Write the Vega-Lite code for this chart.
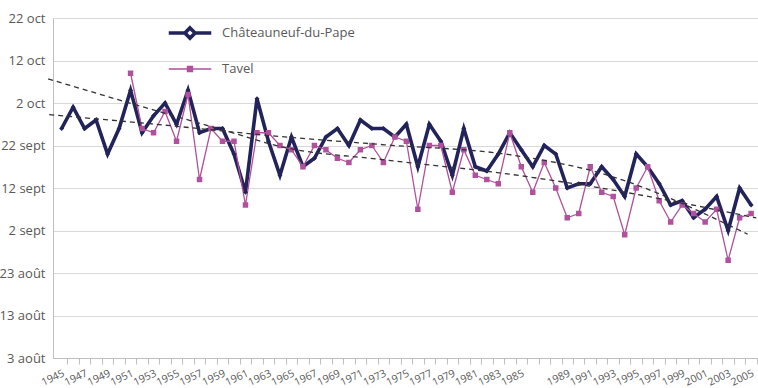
{
  "$schema": "https://vega.github.io/schema/vega-lite/v6.json",
  "width": 705,
  "height": 340,
  "autosize": "none",
  "padding": {"left": 53, "top": 18, "right": 0, "bottom": 30},
  "background": "white",
  "config": {
    "view": {"stroke": null},
    "font": "Open Sans",
    "axis": {"labelColor": "#595959", "domainColor": "#bfbfbf", "tickColor": "#bfbfbf", "title": null}
  },
  "encoding": {
    "x": {
      "field": "year",
      "type": "quantitative",
      "scale": {"domain": [1944.25, 2005.6], "nice": false, "zero": false},
      "axis": {
        "values": [1945,1946,1947,1948,1949,1950,1951,1952,1953,1954,1955,1956,1957,1958,1959,1960,1961,1962,1963,1964,1965,1966,1967,1968,1969,1970,1971,1972,1973,1974,1975,1976,1977,1978,1979,1980,1981,1982,1983,1984,1985,1986,1987,1988,1989,1990,1991,1992,1993,1994,1995,1996,1997,1998,1999,2000,2001,2002,2003,2004,2005],
        "format": "d",
        "labelExpr": "(datum.value % 2 == 1 && datum.value != 1987) ? datum.label : ''",
        "grid": false,
        "tickOffset": 5.75,
        "labelOffset": -6,
        "tickSize": 6,
        "labelAngle": -25,
        "labelAlign": "right",
        "labelBaseline": "top",
        "labelFontSize": 10.5,
        "labelPadding": 4,
        "labelOverlap": false,
        "labelFlush": false
      }
    },
    "y": {
      "field": "date",
      "type": "temporal",
      "scale": {"domain": [{"year": 1900, "month": 8, "date": 3}, {"year": 1900, "month": 10, "date": 22}], "nice": false},
      "axis": {
        "values": [
          {"year": 1900, "month": 8, "date": 3},
          {"year": 1900, "month": 8, "date": 13},
          {"year": 1900, "month": 8, "date": 23},
          {"year": 1900, "month": 9, "date": 2},
          {"year": 1900, "month": 9, "date": 12},
          {"year": 1900, "month": 9, "date": 22},
          {"year": 1900, "month": 10, "date": 2},
          {"year": 1900, "month": 10, "date": 12},
          {"year": 1900, "month": 10, "date": 22}
        ],
        "labelExpr": "date(datum.value) + ' ' + ['janv','févr','mars','avr','mai','juin','juil','août','sept','oct','nov','déc'][month(datum.value)]",
        "grid": true,
        "gridColor": "#d9d9d9",
        "ticks": false,
        "labelPadding": 8,
        "labelFontSize": 13
      }
    }
  },
  "layer": [
    {
      "data": {
        "values": [
          {"year": 1945, "series": "Châteauneuf-du-Pape", "date": "09-26"},
          {"year": 1946, "series": "Châteauneuf-du-Pape", "date": "10-01"},
          {"year": 1947, "series": "Châteauneuf-du-Pape", "date": "09-26"},
          {"year": 1948, "series": "Châteauneuf-du-Pape", "date": "09-28"},
          {"year": 1949, "series": "Châteauneuf-du-Pape", "date": "09-20"},
          {"year": 1950, "series": "Châteauneuf-du-Pape", "date": "09-26"},
          {"year": 1951, "series": "Châteauneuf-du-Pape", "date": "10-05"},
          {"year": 1952, "series": "Châteauneuf-du-Pape", "date": "09-25"},
          {"year": 1953, "series": "Châteauneuf-du-Pape", "date": "09-29"},
          {"year": 1954, "series": "Châteauneuf-du-Pape", "date": "10-02"},
          {"year": 1955, "series": "Châteauneuf-du-Pape", "date": "09-27"},
          {"year": 1956, "series": "Châteauneuf-du-Pape", "date": "10-05"},
          {"year": 1957, "series": "Châteauneuf-du-Pape", "date": "09-25"},
          {"year": 1958, "series": "Châteauneuf-du-Pape", "date": "09-26"},
          {"year": 1959, "series": "Châteauneuf-du-Pape", "date": "09-26"},
          {"year": 1960, "series": "Châteauneuf-du-Pape", "date": "09-20"},
          {"year": 1961, "series": "Châteauneuf-du-Pape", "date": "09-11"},
          {"year": 1962, "series": "Châteauneuf-du-Pape", "date": "10-03"},
          {"year": 1963, "series": "Châteauneuf-du-Pape", "date": "09-23"},
          {"year": 1964, "series": "Châteauneuf-du-Pape", "date": "09-15"},
          {"year": 1965, "series": "Châteauneuf-du-Pape", "date": "09-24"},
          {"year": 1966, "series": "Châteauneuf-du-Pape", "date": "09-17"},
          {"year": 1967, "series": "Châteauneuf-du-Pape", "date": "09-19"},
          {"year": 1968, "series": "Châteauneuf-du-Pape", "date": "09-24"},
          {"year": 1969, "series": "Châteauneuf-du-Pape", "date": "09-26"},
          {"year": 1970, "series": "Châteauneuf-du-Pape", "date": "09-22"},
          {"year": 1971, "series": "Châteauneuf-du-Pape", "date": "09-28"},
          {"year": 1972, "series": "Châteauneuf-du-Pape", "date": "09-26"},
          {"year": 1973, "series": "Châteauneuf-du-Pape", "date": "09-26"},
          {"year": 1974, "series": "Châteauneuf-du-Pape", "date": "09-24"},
          {"year": 1975, "series": "Châteauneuf-du-Pape", "date": "09-27"},
          {"year": 1976, "series": "Châteauneuf-du-Pape", "date": "09-17"},
          {"year": 1977, "series": "Châteauneuf-du-Pape", "date": "09-27"},
          {"year": 1978, "series": "Châteauneuf-du-Pape", "date": "09-23"},
          {"year": 1979, "series": "Châteauneuf-du-Pape", "date": "09-15"},
          {"year": 1980, "series": "Châteauneuf-du-Pape", "date": "09-26"},
          {"year": 1981, "series": "Châteauneuf-du-Pape", "date": "09-17"},
          {"year": 1982, "series": "Châteauneuf-du-Pape", "date": "09-16"},
          {"year": 1983, "series": "Châteauneuf-du-Pape", "date": "09-20"},
          {"year": 1984, "series": "Châteauneuf-du-Pape", "date": "09-25"},
          {"year": 1985, "series": "Châteauneuf-du-Pape", "date": "09-21"},
          {"year": 1986, "series": "Châteauneuf-du-Pape", "date": "09-17"},
          {"year": 1987, "series": "Châteauneuf-du-Pape", "date": "09-22"},
          {"year": 1988, "series": "Châteauneuf-du-Pape", "date": "09-20"},
          {"year": 1989, "series": "Châteauneuf-du-Pape", "date": "09-12"},
          {"year": 1990, "series": "Châteauneuf-du-Pape", "date": "09-13"},
          {"year": 1991, "series": "Châteauneuf-du-Pape", "date": "09-13"},
          {"year": 1992, "series": "Châteauneuf-du-Pape", "date": "09-17"},
          {"year": 1993, "series": "Châteauneuf-du-Pape", "date": "09-14"},
          {"year": 1994, "series": "Châteauneuf-du-Pape", "date": "09-10"},
          {"year": 1995, "series": "Châteauneuf-du-Pape", "date": "09-20"},
          {"year": 1996, "series": "Châteauneuf-du-Pape", "date": "09-17"},
          {"year": 1997, "series": "Châteauneuf-du-Pape", "date": "09-13"},
          {"year": 1998, "series": "Châteauneuf-du-Pape", "date": "09-08"},
          {"year": 1999, "series": "Châteauneuf-du-Pape", "date": "09-09"},
          {"year": 2000, "series": "Châteauneuf-du-Pape", "date": "09-05"},
          {"year": 2001, "series": "Châteauneuf-du-Pape", "date": "09-07"},
          {"year": 2002, "series": "Châteauneuf-du-Pape", "date": "09-10"},
          {"year": 2003, "series": "Châteauneuf-du-Pape", "date": "09-02"},
          {"year": 2004, "series": "Châteauneuf-du-Pape", "date": "09-12"},
          {"year": 2005, "series": "Châteauneuf-du-Pape", "date": "09-08"},
          {"year": 1951, "series": "Tavel", "date": "10-09"},
          {"year": 1952, "series": "Tavel", "date": "09-26"},
          {"year": 1953, "series": "Tavel", "date": "09-25"},
          {"year": 1954, "series": "Tavel", "date": "09-30"},
          {"year": 1955, "series": "Tavel", "date": "09-23"},
          {"year": 1956, "series": "Tavel", "date": "10-04"},
          {"year": 1957, "series": "Tavel", "date": "09-14"},
          {"year": 1958, "series": "Tavel", "date": "09-26"},
          {"year": 1959, "series": "Tavel", "date": "09-23"},
          {"year": 1960, "series": "Tavel", "date": "09-23"},
          {"year": 1961, "series": "Tavel", "date": "09-08"},
          {"year": 1962, "series": "Tavel", "date": "09-25"},
          {"year": 1963, "series": "Tavel", "date": "09-25"},
          {"year": 1964, "series": "Tavel", "date": "09-22"},
          {"year": 1965, "series": "Tavel", "date": "09-21"},
          {"year": 1966, "series": "Tavel", "date": "09-17"},
          {"year": 1967, "series": "Tavel", "date": "09-22"},
          {"year": 1968, "series": "Tavel", "date": "09-21"},
          {"year": 1969, "series": "Tavel", "date": "09-19"},
          {"year": 1970, "series": "Tavel", "date": "09-18"},
          {"year": 1971, "series": "Tavel", "date": "09-21"},
          {"year": 1972, "series": "Tavel", "date": "09-22"},
          {"year": 1973, "series": "Tavel", "date": "09-18"},
          {"year": 1974, "series": "Tavel", "date": "09-24"},
          {"year": 1975, "series": "Tavel", "date": "09-23"},
          {"year": 1976, "series": "Tavel", "date": "09-07"},
          {"year": 1977, "series": "Tavel", "date": "09-22"},
          {"year": 1978, "series": "Tavel", "date": "09-22"},
          {"year": 1979, "series": "Tavel", "date": "09-11"},
          {"year": 1980, "series": "Tavel", "date": "09-21"},
          {"year": 1981, "series": "Tavel", "date": "09-15"},
          {"year": 1982, "series": "Tavel", "date": "09-14"},
          {"year": 1983, "series": "Tavel", "date": "09-13"},
          {"year": 1984, "series": "Tavel", "date": "09-25"},
          {"year": 1985, "series": "Tavel", "date": "09-17"},
          {"year": 1986, "series": "Tavel", "date": "09-11"},
          {"year": 1987, "series": "Tavel", "date": "09-18"},
          {"year": 1988, "series": "Tavel", "date": "09-12"},
          {"year": 1989, "series": "Tavel", "date": "09-05"},
          {"year": 1990, "series": "Tavel", "date": "09-06"},
          {"year": 1991, "series": "Tavel", "date": "09-17"},
          {"year": 1992, "series": "Tavel", "date": "09-11"},
          {"year": 1993, "series": "Tavel", "date": "09-10"},
          {"year": 1994, "series": "Tavel", "date": "09-01"},
          {"year": 1995, "series": "Tavel", "date": "09-12"},
          {"year": 1996, "series": "Tavel", "date": "09-17"},
          {"year": 1997, "series": "Tavel", "date": "09-09"},
          {"year": 1998, "series": "Tavel", "date": "09-04"},
          {"year": 1999, "series": "Tavel", "date": "09-08"},
          {"year": 2000, "series": "Tavel", "date": "09-06"},
          {"year": 2001, "series": "Tavel", "date": "09-04"},
          {"year": 2002, "series": "Tavel", "date": "09-07"},
          {"year": 2003, "series": "Tavel", "date": "08-26"},
          {"year": 2004, "series": "Tavel", "date": "09-05"},
          {"year": 2005, "series": "Tavel", "date": "09-06"}
        ],
        "format": {"parse": {"date": "date:'%m-%d'"}}
      },
      "layer": [
        {
          "mark": {"type": "line", "orient": "horizontal"},
          "encoding": {
            "order": {"field": "year", "type": "quantitative"},
            "color": {
              "field": "series",
              "type": "nominal",
              "scale": {"domain": ["Châteauneuf-du-Pape", "Tavel"], "range": ["#22235a", "#b1509c"]},
              "legend": {
                "orient": "none",
                "legendX": 118,
                "legendY": -4,
                "title": null,
                "padding": 0,
                "symbolType": "stroke",
                "symbolSize": 1156,
                "labelOffset": 13,
                "rowPadding": 5,
                "labelFontSize": 13,
                "labelColor": "#595959",
                "encode": {
                  "symbols": {
                    "update": {
                      "shape": {"signal": "datum.value === 'Tavel' ? 'M-1.25,0H1.25M-0.15,-0.15H0.15V0.15H-0.15Z' : 'M-1.25,0H-0.3M0.3,0H1.25M0,-0.3L0.3,0L0,0.3L-0.3,0Z'"},
                      "strokeWidth": {"signal": "datum.value === 'Tavel' ? 1.3 : 3.2"},
                      "fill": {"signal": "datum.value === 'Tavel' ? '#b1509c' : 'white'"},
                      "stroke": {"signal": "datum.value === 'Tavel' ? '#b1509c' : '#22235a'"},
                      "size": {"value": 1156},
                      "opacity": {"value": 1}
                    }
                  }
                }
              }
            },
            "strokeWidth": {
              "field": "series",
              "type": "nominal",
              "scale": {"domain": ["Châteauneuf-du-Pape", "Tavel"], "range": [3.6, 1.3]},
              "legend": null
            }
          }
        },
        {
          "transform": [{"filter": "datum.series === 'Châteauneuf-du-Pape'"}],
          "mark": {"type": "point", "shape": "diamond", "filled": true, "opacity": 1, "size": 25, "color": "#22235a"}
        },
        {
          "transform": [{"filter": "datum.series === 'Tavel'"}],
          "mark": {"type": "point", "shape": "square", "filled": true, "opacity": 1, "size": 30, "color": "#b1509c"}
        }
      ]
    },
    {
      "data": {
        "values": [
          {"trend": "A", "year": 1943.83, "date": "10-07 16"},
          {"trend": "A", "year": 1950.07, "date": "10-02 16"},
          {"trend": "A", "year": 1959.55, "date": "09-25 06"},
          {"trend": "A", "year": 1963.98, "date": "09-21 19"},
          {"trend": "A", "year": 1973.11, "date": "09-18 15"},
          {"trend": "A", "year": 1983.98, "date": "09-15 06"},
          {"trend": "A", "year": 1991.8, "date": "09-12 01"},
          {"trend": "A", "year": 2005.45, "date": "09-04 23"},
          {"trend": "B", "year": 1943.92, "date": "09-29 06"},
          {"trend": "B", "year": 1952.68, "date": "09-27 03"},
          {"trend": "B", "year": 1963.98, "date": "09-24 03"},
          {"trend": "B", "year": 1973.11, "date": "09-22 04"},
          {"trend": "B", "year": 1983.98, "date": "09-19 20"},
          {"trend": "B", "year": 1991.8, "date": "09-15 14"},
          {"trend": "B", "year": 2004.7, "date": "09-01 03"}
        ],
        "format": {"parse": {"date": "date:'%m-%d %H'"}}
      },
      "mark": {"type": "line", "orient": "horizontal", "color": "#333333", "strokeWidth": 1.3, "strokeDash": [5, 4], "interpolate": "monotone", "clip": false},
      "encoding": {
        "order": {"field": "year", "type": "quantitative"},
        "detail": {"field": "trend", "type": "nominal"}
      }
    }
  ]
}
